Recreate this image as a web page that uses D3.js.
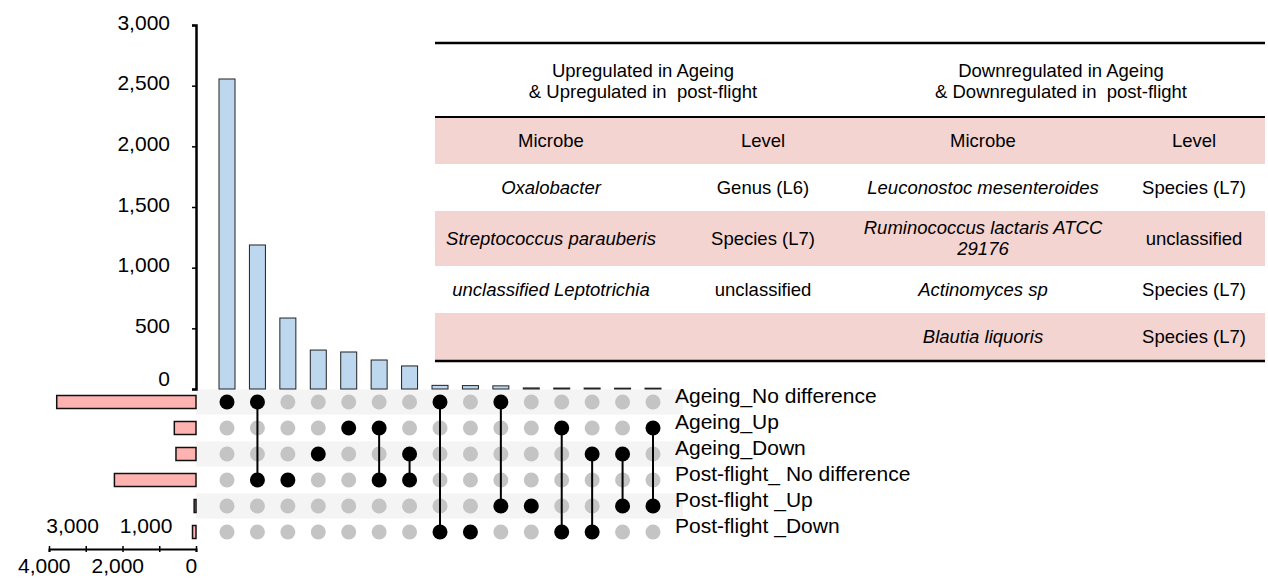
<!DOCTYPE html>
<html>
<head>
<meta charset="utf-8">
<script src="https://cdn.jsdelivr.net/npm/d3@7"></script>
<style>
  body { margin: 0; background: #fff; }
  svg { display: block; font-family: "Liberation Sans", Arial, sans-serif; }
</style>
</head>
<body>
<div id="wrap"></div>
<script>
var width = 1268;
var height = 579;

// sets (rows of the matrix) and their sizes
var sets = ["Ageing_No difference", "Ageing_Up", "Ageing_Down",
  "Post-flight_ No difference", "Post-flight _Up", "Post-flight _Down"];
var setSizes = [3790, 590, 545, 2220, 50, 95];

// intersections: which sets are in each column, and its count
var combos = [[0], [0, 3], [3], [2], [1], [1, 3], [2, 3], [0, 5], [5], [0, 4],
  [4], [1, 5], [2, 5], [2, 4], [1, 4]];
var comboCounts = [2555, 1187, 585, 321, 305, 239, 190, 30, 28, 26, 9, 8, 8, 7, 7];

var yTicks = [0, 500, 1000, 1500, 2000, 2500, 3000];
var sizeTicks = [0, 1000, 2000, 3000, 4000];

// table content
var groupHeaders = [["Upregulated in Ageing", "& Upregulated in  post-flight"],
  ["Downregulated in Ageing", "& Downregulated in  post-flight"]];
var colHeaders = ["Microbe", "Level", "Microbe", "Level"];
var upMicrobes = ["Oxalobacter", "Streptococcus parauberis", "unclassified Leptotrichia", ""];
var upLevels = ["Genus (L6)", "Species (L7)", "unclassified", ""];
var downMicrobes = ["Leuconostoc mesenteroides", "Ruminococcus lactaris ATCC\n29176", "Actinomyces sp", "Blautia liquoris"];
var downLevels = ["Species (L7)", "unclassified", "Species (L7)", "Species (L7)"];

var svg = d3.select("#wrap").append("svg")
  .attr("width", width)
  .attr("height", height);

var x0 = 196;
var x = d3.scalePoint().domain(d3.range(combos.length)).range([227, 653]);
var y = d3.scaleLinear().domain([0, 3000]).range([389, 25]);
var row = d3.scalePoint().domain(d3.range(sets.length)).range([402, 532]);
var sx = d3.scaleLinear().domain([0, 4000]).range([x0, 49]);
var barW = 16;

// stripes behind the matrix
svg.append("g").selectAll("rect")
  .data(d3.range(sets.length).filter(i => i % 2 === 0))
  .join("rect")
    .attr("x", x0)
    .attr("y", i => row(i) - 12.5)
    .attr("width", 683 - x0)
    .attr("height", 25)
    .attr("fill", "#f4f4f4");

// intersection bars
svg.append("g").selectAll("rect")
  .data(comboCounts)
  .join("rect")
    .attr("x", (d, i) => x(i) - barW / 2)
    .attr("y", d => y(d))
    .attr("width", barW)
    .attr("height", d => y(0) - y(d))
    .attr("fill", "#bdd7ee")
    .attr("stroke", "#222")
    .attr("stroke-width", 1);

var yAxis = svg.append("g")
  .attr("transform", `translate(${x0},0)`)
  .call(d3.axisLeft(y).tickValues(yTicks).tickSize(4).tickPadding(22).tickFormat(d3.format(",")));
yAxis.select(".domain").attr("stroke-width", 2.5);
yAxis.selectAll(".tick line").attr("stroke-width", 1.5);
yAxis.selectAll("text").attr("font-size", 21).attr("font-family", "Liberation Sans, Arial, sans-serif")
  .attr("dy", d => d === 0 ? "-0.15em" : "0.2em");

// set size bars
svg.append("g").selectAll("rect")
  .data(setSizes)
  .join("rect")
    .attr("x", d => sx(d))
    .attr("y", (d, i) => row(i) - 6.5)
    .attr("width", d => x0 - sx(d))
    .attr("height", 13)
    .attr("fill", "#ffb3b0")
    .attr("stroke", "#111")
    .attr("stroke-width", 1.5);

var sAxis = svg.append("g")
  .attr("transform", "translate(0,549)")
  .call(d3.axisBottom(sx).tickValues(sizeTicks).tickSize(3).tickPadding(6).tickFormat(d3.format(",")));
sAxis.select(".domain").attr("stroke-width", 2);
sAxis.selectAll(".tick line").attr("y1", -3).attr("stroke-width", 1.5);
sAxis.selectAll("text")
  .attr("font-size", 21)
  .attr("font-family", "Liberation Sans, Arial, sans-serif")
  .attr("y", d => (d / 1000) % 2 === 1 ? -31 : 9)
  .attr("dx", d => (d / 1000) % 2 === 1 ? "-0.65em" : "-0.25em");

// matrix lines and dots
var matrix = svg.append("g");
var cells = [];
combos.forEach((c, i) => {
  sets.forEach((s, j) => cells.push({col: i, row: j, on: c.includes(j)}));
});
matrix.selectAll("circle.off")
  .data(cells.filter(d => !d.on))
  .join("circle")
    .attr("class", "off")
    .attr("cx", d => x(d.col))
    .attr("cy", d => row(d.row))
    .attr("r", 7.5)
    .attr("fill", "#c4c4c4");

matrix.selectAll("line")
  .data(combos.filter(c => c.length > 1))
  .join("line")
    .attr("x1", c => x(combos.indexOf(c)))
    .attr("x2", c => x(combos.indexOf(c)))
    .attr("y1", c => row(d3.min(c)))
    .attr("y2", c => row(d3.max(c)))
    .attr("stroke", "#000")
    .attr("stroke-width", 2);

matrix.selectAll("circle.on")
  .data(cells.filter(d => d.on))
  .join("circle")
    .attr("class", "on")
    .attr("cx", d => x(d.col))
    .attr("cy", d => row(d.row))
    .attr("r", 7.5)
    .attr("fill", "#000");

// set labels
svg.append("g").selectAll("text")
  .data(sets)
  .join("text")
    .attr("x", 675)
    .attr("y", (d, i) => row(i) - 6)
    .attr("dy", "0.35em")
    .attr("font-size", 21)
    .text(d => d);

// table
var table = svg.append("g").attr("font-size", 18.5).attr("text-anchor", "middle");
var tLeft = 435, tRight = 1265;
var colX = [551, 763, 983, 1194];
var groupX = [643, 1061];
var bodyRows = [[164, 211], [211, 266], [266, 313], [313, 360]];

table.append("rect").attr("x", tLeft).attr("y", 117).attr("width", tRight - tLeft).attr("height", 47).attr("fill", "#f4d4d0");
table.selectAll(".band")
  .data(bodyRows.filter((r, i) => i % 2 === 1))
  .join("rect")
    .attr("class", "band")
    .attr("x", tLeft)
    .attr("y", r => r[0])
    .attr("width", tRight - tLeft)
    .attr("height", r => r[1] - r[0])
    .attr("fill", "#f4d4d0");

[[43, 2.5], [117, 2], [361, 2.5]].forEach(l => {
  table.append("line")
    .attr("x1", tLeft).attr("x2", tRight)
    .attr("y1", l[0]).attr("y2", l[0])
    .attr("stroke", "#000").attr("stroke-width", l[1]);
});

groupHeaders.forEach((g, i) => {
  g.forEach((t, k) => {
    table.append("text").attr("x", groupX[i]).attr("y", 71 + k * 21).attr("dy", "0.35em")
      .style("white-space", "pre").text(t);
  });
});

table.selectAll(".colhead")
  .data(colHeaders)
  .join("text")
    .attr("class", "colhead")
    .attr("x", (d, i) => colX[i])
    .attr("y", 141)
    .attr("dy", "0.35em")
    .text(d => d);

var columns = [upMicrobes, upLevels, downMicrobes, downLevels];
columns.forEach((col, ci) => {
  col.forEach((t, ri) => {
    var mid = (bodyRows[ri][0] + bodyRows[ri][1]) / 2;
    var lines = t.split("\n");
    lines.forEach((ln, li) => {
      table.append("text")
        .attr("x", colX[ci])
        .attr("y", mid + (li - (lines.length - 1) / 2) * 21)
        .attr("dy", "0.35em")
        .attr("font-style", ci % 2 === 0 ? "italic" : "normal")
        .text(ln);
    });
  });
});
</script>
</body>
</html>
